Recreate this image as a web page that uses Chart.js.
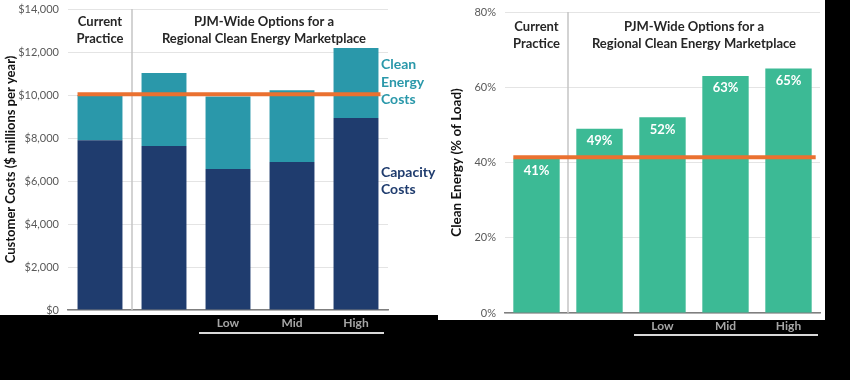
<!DOCTYPE html>
<html>
<head>
<meta charset="utf-8">
<script src="https://cdn.jsdelivr.net/npm/chart.js@4.4.1/dist/chart.umd.min.js"></script>
<style>
  html, body { margin: 0; padding: 0; background: #000; }
  #wrap { position: relative; width: 850px; height: 380px; overflow: hidden; }
  .box { position: absolute; top: 0; height: 380px; }
  #left { left: 0; width: 438px; }
  #right { left: 438px; width: 412px; }
</style>
</head>
<body>
<div id="wrap">
  <div class="box" id="left"><canvas id="c1"></canvas></div>
  <div class="box" id="right"><canvas id="c2"></canvas></div>
</div>
<script>
// ---- data ----
const categories = ["", "", "Low", "Mid", "High"];
const capacityCosts = [7900, 7630, 6560, 6880, 8930];
const cleanEnergyCosts = [2100, 3390, 3370, 3340, 3260];
const currentPracticeCost = 10030;
const costTicks = [0, 2000, 4000, 6000, 8000, 10000, 12000, 14000];

const cleanEnergyShare = [41, 49, 52, 63, 65];
const shareLabels = ["41%", "49%", "52%", "63%", "65%"];
const currentPracticeShare = 41.4;
const shareTicks = [0, 20, 40, 60, 80];

const headerLeft = ["Current", "Practice"];
const headerRight = ["PJM-Wide Options for a", "Regional Clean Energy Marketplace"];

const FONT = "Lato, 'Open Sans', sans-serif";
const NAVY = "#1f3c6e";
const TEAL = "#2a98aa";
const GREEN = "#3cba95";
const ORANGE = "#ea7130";

function fontStr(w, s) { return w + " " + s + "px " + FONT; }

function makePlugin(opts) {
  return {
    id: "deco_" + opts.id,
    beforeDraw(chart) {
      const ctx = chart.ctx, a = chart.chartArea;
      ctx.save();
      ctx.fillStyle = "#fff";
      ctx.fillRect(0, 0, opts.whiteW, a.bottom + opts.whiteExtra);
      ctx.restore();
    },
    afterDatasetsDraw(chart) {
      const ctx = chart.ctx, a = chart.chartArea;
      const meta = chart.getDatasetMeta(0);
      const bars = meta.data;
      const y = chart.scales.y;
      const n = bars.length;
      const catW = (bars[1].x - bars[0].x);
      ctx.save();
      // separator
      const sx = (bars[0].x + bars[1].x) / 2;
      ctx.strokeStyle = "#c4c4c4";
      ctx.lineWidth = 1.5;
      ctx.beginPath();
      ctx.moveTo(sx, a.top);
      ctx.lineTo(sx, a.bottom);
      ctx.stroke();
      // reference line
      const ry = y.getPixelForValue(opts.ref);
      ctx.strokeStyle = ORANGE;
      ctx.lineWidth = 4;
      ctx.beginPath();
      ctx.moveTo(bars[0].x - bars[0].width / 2, ry);
      ctx.lineTo(bars[n - 1].x + bars[n - 1].width / 2 + opts.refExtra, ry);
      ctx.stroke();
      // data labels
      if (opts.labels) {
        ctx.fillStyle = "#fff";
        ctx.font = fontStr("bold", 13);
        ctx.textAlign = "center";
        ctx.textBaseline = "middle";
        bars.forEach((b, i) => ctx.fillText(opts.labels[i], b.x, b.y + 12));
      }
      // headers
      ctx.fillStyle = "#262626";
      ctx.font = fontStr("bold", opts.headSize);
      ctx.textAlign = "center";
      ctx.textBaseline = "middle";
      const h1 = bars[0].x;
      const h2 = (bars[1].x + bars[n - 1].x) / 2 + opts.headShift;
      headerLeft.forEach((t, i) => ctx.fillText(t, h1, opts.headY + i * 17));
      headerRight.forEach((t, i) => ctx.fillText(t, h2, opts.headY + i * 17));
      // underline below Low/Mid/High
      ctx.strokeStyle = "#d9d9d9";
      ctx.lineWidth = 2;
      ctx.beginPath();
      ctx.moveTo(bars[2].x - catW / 2 + 3, a.bottom + opts.ulY);
      ctx.lineTo(a.right - 4 + opts.ulExtra, a.bottom + opts.ulY);
      ctx.stroke();
      // side labels
      if (opts.side) {
        ctx.textAlign = "left";
        ctx.font = fontStr("bold", 14);
        opts.side.forEach(s => {
          ctx.fillStyle = s.color;
          const base = y.getPixelForValue(s.value);
          s.lines.forEach((t, i) => ctx.fillText(t, a.right - 7, base + i * 17.5));
        });
      }
      ctx.restore();
    }
  };
}

function axisCommon(tickCb, ticksArr, maxV, titleText, titlePad, titleSize, yWidth, xHeight) {
  return {
    x: {
      stacked: true,
      grid: { display: false, drawTicks: false },
      border: { display: true, color: "#7f7f7f", width: 1.5 },
      ticks: { color: "#a6a6a6", font: { family: FONT, size: 12, weight: "bold" }, padding: 6, maxRotation: 0, autoSkip: false },
      afterFit(s) { s.height = xHeight; }
    },
    y: {
      stacked: true,
      min: 0, max: maxV,
      afterBuildTicks(s) { s.ticks = ticksArr.map(v => ({ value: v })); },
      grid: { color: "#e4e4e4", drawTicks: true, tickLength: 8, tickColor: "rgba(0,0,0,0)", lineWidth: 1 },
      border: { display: false },
      ticks: { color: "#595959", font: { family: FONT, size: 11 }, padding: 1, callback: tickCb },
      title: { display: true, text: titleText, color: "#111", font: { family: FONT, size: titleSize, weight: "bold" }, padding: { top: titlePad, bottom: 0 } },
      afterFit(s) { s.width = yWidth; }
    }
  };
}

Chart.defaults.animation = false;

new Chart(document.getElementById("c1"), {
  type: "bar",
  data: {
    labels: categories,
    datasets: [
      { label: "Capacity Costs", data: capacityCosts, backgroundColor: NAVY, barPercentage: 0.9, categoryPercentage: 0.78 },
      { label: "Clean Energy Costs", data: cleanEnergyCosts, backgroundColor: TEAL, barPercentage: 0.9, categoryPercentage: 0.78 }
    ]
  },
  options: {
    responsive: true, maintainAspectRatio: false,
    layout: { padding: { left: 0, right: 50, top: 9, bottom: 0 } },
    plugins: { legend: { display: false }, tooltip: { enabled: false } },
    scales: axisCommon(v => "$" + v.toLocaleString("en-US"), costTicks, 14000, "Customer Costs ($ millions per year)", 3, 13, 68, 70)
  },
  plugins: [makePlugin({
    id: "l", whiteW: 438, whiteExtra: 5, ref: currentPracticeCost, refExtra: 2,
    headSize: 13, headY: 22, headShift: 4, ulY: 23, ulExtra: 0,
    side: [
      { value: 11400, color: TEAL, lines: ["Clean", "Energy", "Costs"] },
      { value: 6400, color: NAVY, lines: ["Capacity", "Costs"] }
    ]
  })]
});

new Chart(document.getElementById("c2"), {
  type: "bar",
  data: {
    labels: categories,
    datasets: [
      { label: "Clean Energy", data: cleanEnergyShare, backgroundColor: GREEN, barPercentage: 0.92, categoryPercentage: 0.8 }
    ]
  },
  options: {
    responsive: true, maintainAspectRatio: false,
    layout: { padding: { left: 0, right: 30, top: 12, bottom: 0 } },
    plugins: { legend: { display: false }, tooltip: { enabled: false } },
    scales: axisCommon(v => v + "%", shareTicks, 80, "Clean Energy (% of Load)", 11, 13.5, 67, 67)
  },
  plugins: [makePlugin({
    id: "r", whiteW: 387, whiteExtra: 7, ref: currentPracticeShare, refExtra: 4,
    labels: shareLabels,
    headSize: 13, headY: 27, headShift: 0, ulY: 22, ulExtra: 2
  })]
});
</script>
</body>
</html>
